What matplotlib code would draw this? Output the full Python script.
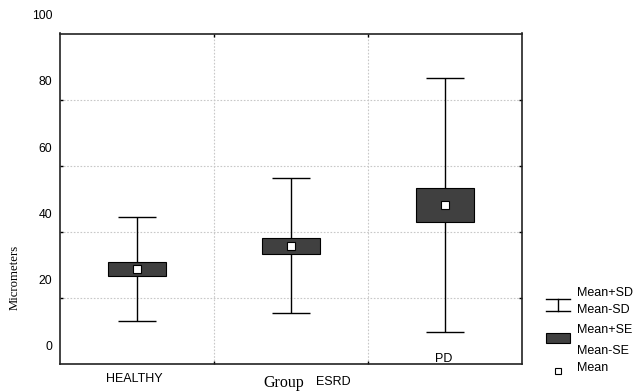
import numpy as np
import matplotlib
matplotlib.use("Agg")
from matplotlib import pyplot as plt
from matplotlib.lines import Line2D
from matplotlib.patches import Rectangle
import matplotlib.transforms as mtransforms

groups = ["HEALTHY", "ESRD", "PD"]
means = [23.6, 30.7, 43.0]
sd = [15.8, 20.3, 38.3]
se = [2.0, 2.4, 5.2]
tick_values = [0, 20, 40, 60, 80, 100]

plt.rcParams['font.family'] = ['Liberation Sans', 'DejaVu Sans']

W, H = 633, 392
fig = plt.figure(figsize=(W / 100, H / 100), dpi=100)
ax = fig.add_axes([60 / W, 1 - 364 / H, 462 / W, 330.5 / H])

x = np.arange(len(groups)) + 0.5
means = np.array(means)
sd = np.array(sd)
se = np.array(se)

# whiskers (mean +- SD) behind the boxes
ax.errorbar(x, means, yerr=sd, fmt='none', ecolor='black', elinewidth=1.0,
            capsize=13.5, capthick=1.0, zorder=2)
# boxes (mean +- SE)
ax.bar(x, 2 * se, bottom=means - se, width=0.38, color='#404040',
       edgecolor='black', linewidth=0.8, zorder=3)
# mean markers
ax.plot(x, means, 's', ms=5.5, mfc='white', mec='black', mew=0.8, zorder=4)

ax.set_xlim(0, 3)
ax.set_ylim(-5.1, 94.8)
ax.set_xticks([1, 2])
ax.set_yticks([14.8, 34.7, 54.7, 74.6])
ax.set_xticklabels([])
ax.set_yticklabels([])
ax.tick_params(direction='in', length=2.5, width=1, top=True, right=True)
ax.grid(True, color='#c8c8c8', linestyle=(0, (1.5, 1.5)), linewidth=0.8)
ax.set_axisbelow(True)
for s in ax.spines.values():
    s.set_linewidth(1.2)
    s.set_color('#222222')

# offset value labels, as in the original export
trans = mtransforms.blended_transform_factory(ax.transAxes, ax.transData)
for v in tick_values:
    ax.text(-0.017, v, str(v), transform=trans, ha='right', va='center',
            fontsize=8.8, clip_on=False)


def fx(px):
    return px / W


def fy(py):
    return 1 - py / H


fig.text(fx(15), fy(277), "Micrometers", family='Liberation Serif', fontsize=9.2,
         rotation=90, ha='center', va='center')

# category labels
fig.text(fx(134), fy(379), groups[0], fontsize=9, ha='center', va='center')
fig.text(fx(333), fy(382), groups[1], fontsize=9, ha='center', va='center')
fig.text(fx(444), fy(359), groups[2], fontsize=9, ha='center', va='center')
fig.text(fx(284), fy(383), "Group", family='Liberation Serif', fontsize=11.5,
         ha='center', va='center')

# legend
lw = dict(color='black', linewidth=1.0, transform=fig.transFigure)
fig.add_artist(Line2D([fx(546), fx(570)], [fy(299), fy(299)], **lw))
fig.add_artist(Line2D([fx(546), fx(570)], [fy(310.5), fy(310.5)], **lw))
fig.add_artist(Line2D([fx(558), fx(558)], [fy(299), fy(310.5)], **lw))
fig.add_artist(Rectangle((fx(546), fy(343)), fx(24), 10 / H, facecolor='#404040',
                         edgecolor='black', linewidth=0.8, transform=fig.transFigure))
fig.add_artist(Line2D([fx(558)], [fy(370.5)], marker='s', ms=5, mfc='white',
                      mec='black', mew=0.8, linestyle='none', transform=fig.transFigure))
for label, py in [("Mean+SD", 293), ("Mean-SD", 310), ("Mean+SE", 330),
                  ("Mean-SE", 351), ("Mean", 368)]:
    fig.text(fx(577), fy(py), label, fontsize=9, ha='left', va='center')

fig.savefig("out.png", dpi=100)
